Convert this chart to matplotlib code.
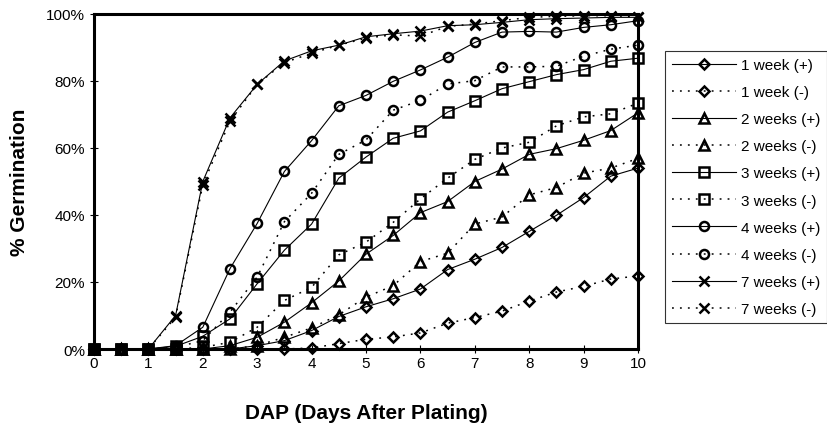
import matplotlib
matplotlib.use("Agg")
import matplotlib.pyplot as plt
from matplotlib.ticker import PercentFormatter

plt.rcParams['font.family'] = ['Liberation Sans', 'DejaVu Sans']

days = [0, 0.5, 1, 1.5, 2, 2.5, 3, 3.5, 4, 4.5, 5, 5.5, 6, 6.5, 7, 7.5, 8, 8.5, 9, 9.5, 10]

w1_plus = [0, 0, 0, 0, 0, 0, 1, 2.5, 5.5, 9.7, 12.6, 15, 17.9, 23.7, 26.8, 30.3, 35.1, 39.9, 45.2, 51.6, 54]
w1_minus = [0, 0, 0, 0, 0, 0, 0, 0, 0.3, 1.6, 2.9, 3.6, 4.8, 7.7, 9.4, 11.3, 14.3, 17, 18.7, 20.9, 21.8]
w2_plus = [0, 0, 0, 0, 0, 1, 3.5, 8, 13.8, 20.3, 28.3, 33.9, 40.7, 44, 50, 53.7, 58.1, 59.8, 62.3, 65.2, 70.5]
w2_minus = [0, 0, 0, 0, 0, 0, 1, 3.5, 6.3, 10.2, 15.5, 18.9, 26.1, 28.6, 37.3, 39.4, 46, 48.2, 52.5, 54, 56.9]
w3_plus = [0, 0, 0, 0.8, 3.8, 9, 19.5, 29.5, 37.3, 51, 57.3, 62.9, 65.1, 70.7, 74.1, 77.7, 79.8, 81.9, 83.4, 85.9, 86.8]
w3_minus = [0, 0, 0, 0, 0.5, 2, 6.5, 14.5, 18.4, 28.1, 31.9, 37.8, 44.8, 51, 56.6, 60, 61.7, 66.6, 69.3, 70.2, 73.4]
w4_plus = [0, 0, 0, 1, 6.5, 24, 37.5, 53, 62.2, 72.6, 75.7, 79.9, 83.3, 87.1, 91.5, 94.6, 94.8, 94.6, 96, 96.8, 98]
w4_minus = [0, 0, 0, 0.5, 2.5, 11, 21.5, 38, 46.5, 58.1, 62.4, 71.3, 74.2, 79.1, 80.1, 84.2, 84.2, 84.4, 87.4, 89.5, 90.7]
w7_plus = [0, 0, 0, 10, 50, 69, 79, 86, 89, 90.7, 93.2, 94.1, 94.9, 96.5, 96.8, 97.5, 98.3, 98.6, 98.8, 99, 99]
w7_minus = [0, 0, 0, 9.5, 49, 68, 79, 85.5, 88.3, 90.7, 92.8, 93.8, 93.4, 96.3, 97, 98, 99, 99.3, 99.5, 99.5, 99.2]

labels = ['1 week (+)', '1 week (-)', '2 weeks (+)', '2 weeks (-)', '3 weeks (+)',
          '3 weeks (-)', '4 weeks (+)', '4 weeks (-)', '7 weeks (+)', '7 weeks (-)']
series = [w1_plus, w1_minus, w2_plus, w2_minus, w3_plus, w3_minus, w4_plus, w4_minus, w7_plus, w7_minus]
markers = ['D', 'D', '^', '^', 's', 's', 'o', 'o', 'x', 'x']
msizes = [5.5, 5.5, 7, 7, 6.5, 6.5, 6.5, 6.5, 7.5, 7.5]

fig = plt.figure(figsize=(8.28, 4.31), dpi=100)
ax = fig.add_axes([94/828, 1-350/431, (638-94)/828, (350-15)/431])

for i, (vals, lab, mk, ms) in enumerate(zip(series, labels, markers, msizes)):
    solid = (i % 2 == 0)
    ls = '-' if solid else (0, (1.2, 4))
    ax.plot(days, vals, color='black', linestyle=ls, linewidth=0.8 if solid else 1.1,
            marker=mk, markersize=ms, markerfacecolor='none', markeredgecolor='black',
            markeredgewidth=1.8, label=lab, clip_on=False, zorder=3)

ax.set_xlim(0, 10)
ax.set_ylim(0, 100)
ax.set_xticks(range(0, 11))
ax.set_yticks([0, 20, 40, 60, 80, 100])
ax.yaxis.set_major_formatter(PercentFormatter(100, decimals=0))
for s in ax.spines.values():
    s.set_linewidth(2.2)
    s.set_color('black')
ax.tick_params(axis='both', direction='inout', length=6, width=0.8, labelsize=11, colors='black')
ax.tick_params(axis='x', pad=2)
ax.set_xlabel('DAP (Days After Plating)', fontsize=15, fontweight='bold', labelpad=24)
ax.set_ylabel('% Germination', fontsize=15, fontweight='bold', labelpad=12)

leg = fig.legend(loc='upper left', bbox_to_anchor=(665/828, 1-52/431), fontsize=11,
                 frameon=True, fancybox=False, edgecolor='black', handlelength=4.2,
                 labelspacing=0.86, borderpad=0.45, handletextpad=0.3, borderaxespad=0)
leg.get_frame().set_linewidth(0.8)

fig.savefig('out.png', dpi=100)
